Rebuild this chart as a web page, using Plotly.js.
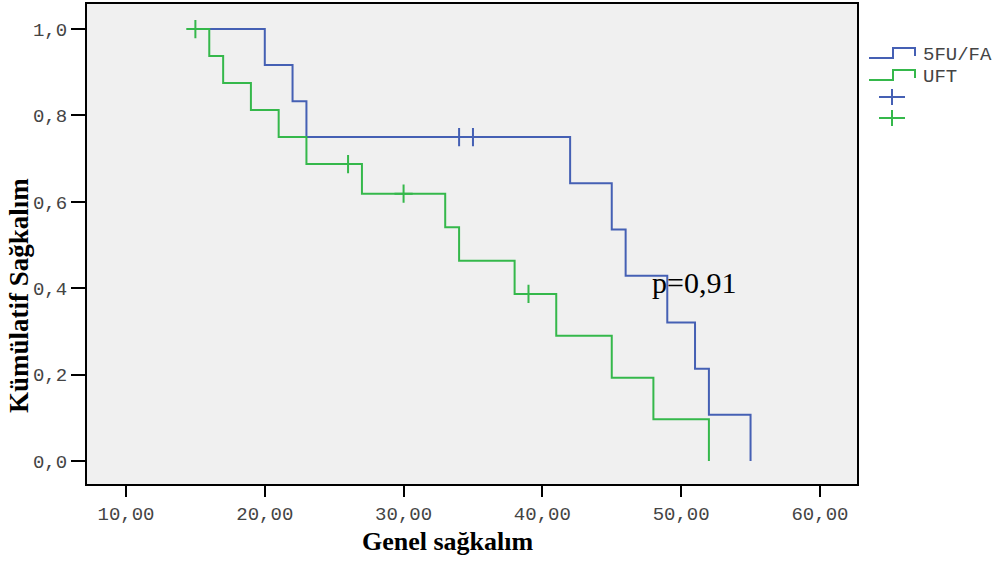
<!DOCTYPE html>
<html>
<head>
<meta charset="utf-8">
<script src="https://cdn.plot.ly/plotly-3.0.1.min.js"></script>
<style>html,body{margin:0;padding:0;background:#fff;}#chart{width:1005px;height:563px;}</style>
</head>
<body>
<div id="chart"></div>
<script>
// Kaplan-Meier step data
const groupNames = ["5FU/FA", "UFT"];
const fuTimes = [15, 20, 22, 23, 42, 45, 46, 49, 51, 52, 55];
const fuSurv  = [1.0, 0.917, 0.833, 0.75, 0.643, 0.536, 0.429, 0.321, 0.214, 0.107, 0.0];
const fuCensorTimes = [34, 35];
const fuCensorSurv  = [0.75, 0.75];
const uftTimes = [15, 16, 17, 19, 21, 23, 27, 33, 34, 38, 41, 45, 48, 52];
const uftSurv  = [1.0, 0.9375, 0.875, 0.8125, 0.75, 0.6875, 0.619, 0.541, 0.464, 0.387, 0.29, 0.193, 0.097, 0.0];
const uftCensorTimes = [15, 26, 30, 39];
const uftCensorSurv  = [1.0, 0.6875, 0.619, 0.387];
const xTicks = [10, 20, 30, 40, 50, 60];
const yTicks = [0, 0.2, 0.4, 0.6, 0.8, 1.0];
const xTitle = "Genel sağkalım";
const yTitle = "Kümülatif Sağkalım";
const pText = "p=0,91";

const blue = "#4560b4";
const green = "#35b84b";

const traces = [
  {x: fuTimes, y: fuSurv, mode: "lines", line: {shape: "hv", color: blue, width: 2}, name: groupNames[0], showlegend: false, hoverinfo: "skip"},
  {x: uftTimes, y: uftSurv, mode: "lines", line: {shape: "hv", color: green, width: 2}, name: groupNames[1], showlegend: false, hoverinfo: "skip"},
  {x: fuCensorTimes, y: fuCensorSurv, mode: "markers", marker: {symbol: "cross-thin", size: 13, line: {color: blue, width: 2}}, showlegend: false},
  {x: uftCensorTimes, y: uftCensorSurv, mode: "markers", marker: {symbol: "cross-thin", size: 13, line: {color: green, width: 2}}, showlegend: false}
];

const monoFont = {family: "Liberation Mono, Courier New, monospace", size: 19, color: "#444"};
const titleFont = {family: "Liberation Serif, Times New Roman, serif", size: 26, color: "#000", weight: "bold"};

// helpers: pixel position -> paper coordinates
function px2x(p){ return (p - 87) / (857 - 87); }
function py2y(p){ return (484 - p) / (484 - 4); }
const legendShapes = [];
const legendAnn = [];
const legendColors = [blue, green];
for (let i = 0; i < 2; i++) {
  const yb = 58 + i * 22;
  legendShapes.push({type: "path", xref: "paper", yref: "paper",
    path: `M ${px2x(869)} ${py2y(yb)} L ${px2x(893)} ${py2y(yb)} L ${px2x(893)} ${py2y(yb-10)} L ${px2x(915)} ${py2y(yb-10)} L ${px2x(915)} ${py2y(yb-2)}`,
    line: {color: legendColors[i], width: 2}});
  legendAnn.push({xref: "paper", yref: "paper", x: px2x(921), y: py2y(yb - 3), text: groupNames[i], showarrow: false,
    xanchor: "left", yanchor: "middle", font: {family: "Liberation Mono, Courier New, monospace", size: 19, color: "#444"}});
  const yc = 97 + i * 21;
  legendShapes.push({type: "line", xref: "paper", yref: "paper", x0: px2x(879), x1: px2x(905), y0: py2y(yc), y1: py2y(yc), line: {color: legendColors[i], width: 2}});
  legendShapes.push({type: "line", xref: "paper", yref: "paper", x0: px2x(892), x1: px2x(892), y0: py2y(yc - 8), y1: py2y(yc + 8), line: {color: legendColors[i], width: 2}});
}

const layout = {
  width: 1005, height: 563,
  margin: {l: 87, r: 148, t: 4, b: 79, pad: 0},
  paper_bgcolor: "#ffffff",
  plot_bgcolor: "#f0f0f0",
  separators: ",.",
  showlegend: false,
  xaxis: {
    range: [7.19, 62.67], tickvals: xTicks, tickformat: ".2f",
    ticks: "outside", ticklen: 11, tickwidth: 2, tickcolor: "#000",
    showgrid: false, zeroline: false,
    showline: true, mirror: true, linecolor: "#000", linewidth: 2,
    tickfont: monoFont
  },
  yaxis: {
    range: [-0.053, 1.058], tickvals: yTicks, tickformat: ".1f",
    ticks: "outside", ticklen: 14, tickwidth: 2, tickcolor: "#000",
    showgrid: false, zeroline: false,
    showline: true, mirror: true, linecolor: "#000", linewidth: 2,
    tickfont: monoFont
  },
  shapes: legendShapes,
  annotations: legendAnn.concat([
    {xref: "paper", yref: "paper", x: px2x(448), y: py2y(541), text: xTitle, showarrow: false,
     xanchor: "center", yanchor: "middle", font: titleFont},
    {xref: "paper", yref: "paper", x: px2x(19), y: py2y(296), text: yTitle, showarrow: false, textangle: -90,
     xanchor: "center", yanchor: "middle", font: Object.assign({}, titleFont, {size: 27})},
    {x: 50.9, y: 0.413, xref: "x", yref: "y", text: pText, showarrow: false,
     font: {family: "Liberation Serif, Times New Roman, serif", size: 30, color: "#000"}}
  ])
};

Plotly.newPlot("chart", traces, layout, {displayModeBar: false, staticPlot: true});
</script>
</body>
</html>
